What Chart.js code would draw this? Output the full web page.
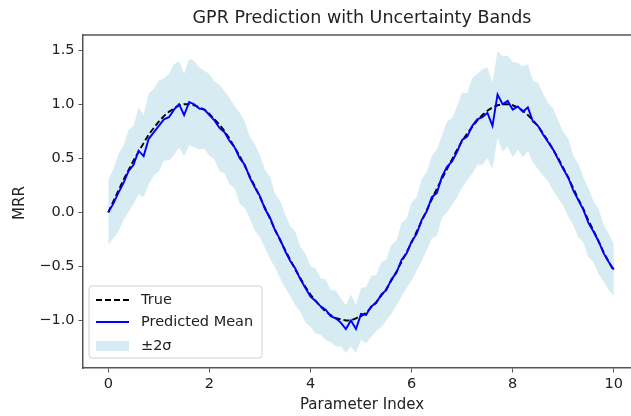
<!DOCTYPE html>
<html>
<head>
<meta charset="utf-8">
<script src="https://cdn.jsdelivr.net/npm/chart.js@4"></script>
<style>
  html, body { margin: 0; padding: 0; background: #fff; }
  canvas { display: block; }
</style>
</head>
<body>
<canvas id="chart" width="631" height="416"></canvas>
<script>
// parameter index (x values)
const paramIndex = [
  0.0, 0.1, 0.2, 0.3, 0.4, 0.5, 0.6, 0.7, 0.8, 0.9,
  1.0, 1.1, 1.2, 1.3, 1.4, 1.5, 1.6, 1.7, 1.8, 1.9,
  2.0, 2.1, 2.2, 2.3, 2.4, 2.5, 2.6, 2.7, 2.8, 2.9,
  3.0, 3.1, 3.2, 3.3, 3.4, 3.5, 3.6, 3.7, 3.8, 3.9,
  4.0, 4.1, 4.2, 4.3, 4.4, 4.5, 4.6, 4.7, 4.8, 4.9,
  5.0, 5.1, 5.2, 5.3, 5.4, 5.5, 5.6, 5.7, 5.8, 5.9,
  6.0, 6.1, 6.2, 6.3, 6.4, 6.5, 6.6, 6.7, 6.8, 6.9,
  7.0, 7.1, 7.2, 7.3, 7.4, 7.5, 7.6, 7.7, 7.8, 7.9,
  8.0, 8.1, 8.2, 8.3, 8.4, 8.5, 8.6, 8.7, 8.8, 8.9,
  9.0, 9.1, 9.2, 9.3, 9.4, 9.5, 9.6, 9.7, 9.8, 9.9,
  10.0
];

const trueMRR = [
  0.00, 0.10, 0.20, 0.30, 0.39, 0.48, 0.56, 0.64, 0.72, 0.78,
  0.84, 0.89, 0.93, 0.96, 0.99, 1.00, 1.00, 0.99, 0.97, 0.95,
  0.91, 0.86, 0.81, 0.75, 0.68, 0.60, 0.52, 0.43, 0.33, 0.24,
  0.14, 0.04, -0.06, -0.16, -0.26, -0.35, -0.44, -0.53, -0.61, -0.69,
  -0.76, -0.82, -0.87, -0.92, -0.95, -0.98, -0.99, -1.00, -1.00, -0.98,
  -0.96, -0.93, -0.88, -0.83, -0.77, -0.71, -0.63, -0.55, -0.46, -0.37,
  -0.28, -0.18, -0.08, 0.02, 0.12, 0.22, 0.31, 0.40, 0.49, 0.58,
  0.66, 0.73, 0.79, 0.85, 0.90, 0.94, 0.97, 0.99, 1.00, 1.00,
  0.99, 0.97, 0.94, 0.90, 0.85, 0.80, 0.73, 0.66, 0.58, 0.50,
  0.41, 0.32, 0.22, 0.12, 0.03, -0.08, -0.17, -0.27, -0.37, -0.46,
  -0.54
];

const predMean = [
  0.00, 0.08, 0.18, 0.27, 0.38, 0.44, 0.57, 0.52, 0.68, 0.74,
  0.80, 0.86, 0.88, 0.95, 1.00, 0.90, 1.02, 1.00, 0.96, 0.95,
  0.90, 0.85, 0.78, 0.74, 0.66, 0.60, 0.50, 0.44, 0.32, 0.23,
  0.15, 0.03, -0.05, -0.17, -0.25, -0.36, -0.45, -0.52, -0.62, -0.70,
  -0.78, -0.82, -0.87, -0.90, -0.96, -0.98, -1.02, -1.08, -1.00, -1.08,
  -0.94, -0.95, -0.87, -0.84, -0.76, -0.72, -0.62, -0.56, -0.44, -0.38,
  -0.27, -0.20, -0.07, 0.01, 0.14, 0.18, 0.33, 0.42, 0.47, 0.56,
  0.67, 0.70, 0.80, 0.86, 0.88, 0.92, 0.80, 1.09, 1.00, 1.03,
  0.95, 0.98, 0.93, 0.97, 0.84, 0.80, 0.72, 0.65, 0.58, 0.49,
  0.40, 0.32, 0.20, 0.11, 0.02, -0.10, -0.18, -0.27, -0.38, -0.46,
  -0.53
];

// +2 sigma / -2 sigma band edges
const bandUpper = [
  0.30, 0.40, 0.54, 0.61, 0.76, 0.80, 0.97, 0.90, 1.10, 1.14,
  1.22, 1.24, 1.28, 1.37, 1.40, 1.28, 1.42, 1.40, 1.34, 1.31,
  1.28, 1.21, 1.18, 1.12, 1.06, 0.98, 0.92, 0.84, 0.70, 0.63,
  0.53, 0.39, 0.33, 0.17, 0.11, -0.02, -0.13, -0.18, -0.32, -0.38,
  -0.50, -0.52, -0.61, -0.62, -0.72, -0.72, -0.80, -0.86, -0.76, -0.86,
  -0.70, -0.69, -0.59, -0.58, -0.46, -0.44, -0.30, -0.26, -0.10, -0.06,
  0.09, 0.14, 0.31, 0.37, 0.52, 0.58, 0.71, 0.84, 0.87, 0.98,
  1.11, 1.10, 1.24, 1.28, 1.32, 1.34, 1.20, 1.49, 1.44, 1.45,
  1.39, 1.38, 1.35, 1.37, 1.22, 1.20, 1.10, 1.01, 0.96, 0.85,
  0.74, 0.68, 0.52, 0.45, 0.32, 0.22, 0.10, 0.03, -0.12, -0.20,
  -0.29
];

const bandLower = [
  -0.30, -0.24, -0.18, -0.07, 0.00, 0.08, 0.17, 0.14, 0.26, 0.34,
  0.38, 0.48, 0.48, 0.53, 0.60, 0.52, 0.62, 0.60, 0.58, 0.59,
  0.52, 0.49, 0.38, 0.36, 0.26, 0.22, 0.08, 0.04, -0.06, -0.17,
  -0.23, -0.33, -0.43, -0.51, -0.61, -0.70, -0.77, -0.86, -0.92, -1.02,
  -1.06, -1.12, -1.13, -1.18, -1.20, -1.24, -1.24, -1.30, -1.24, -1.30,
  -1.18, -1.21, -1.15, -1.10, -1.06, -1.00, -0.94, -0.86, -0.78, -0.70,
  -0.63, -0.54, -0.45, -0.35, -0.24, -0.22, -0.05, 0.00, 0.07, 0.14,
  0.23, 0.30, 0.36, 0.44, 0.44, 0.50, 0.40, 0.69, 0.56, 0.61,
  0.51, 0.58, 0.51, 0.57, 0.46, 0.40, 0.34, 0.29, 0.20, 0.13,
  0.06, -0.04, -0.12, -0.23, -0.28, -0.42, -0.46, -0.57, -0.64, -0.72,
  -0.77
];

const xTicks = [0, 2, 4, 6, 8, 10];
const yTicks = [-1.0, -0.5, 0.0, 0.5, 1.0, 1.5];

const FONT = "'DejaVu Sans', sans-serif";
const AXIS_COLOR = '#555';
const TEXT_COLOR = '#222';
const BAND_COLOR = 'rgba(173, 216, 230, 0.5)';

const pts = ys => paramIndex.map((x, i) => ({ x, y: ys[i] }));

// title, axis labels, top spine and legend drawn on top of the chart
const decorations = {
  id: 'decorations',
  afterDraw(chart) {
    const ctx = chart.ctx;
    const area = chart.chartArea;
    const cx = 362;
    ctx.save();

    // top spine
    ctx.strokeStyle = AXIS_COLOR;
    ctx.lineWidth = 1.5;
    ctx.beginPath();
    ctx.moveTo(area.left, area.top);
    ctx.lineTo(area.right, area.top);
    ctx.stroke();

    ctx.fillStyle = TEXT_COLOR;
    ctx.textBaseline = 'middle';
    ctx.textAlign = 'center';
    ctx.font = '17.5px ' + FONT;
    ctx.fillText('GPR Prediction with Uncertainty Bands', cx, 18);

    ctx.font = '15px ' + FONT;
    ctx.fillText('Parameter Index', cx, 405);

    ctx.save();
    ctx.translate(20, 203);
    ctx.rotate(-Math.PI / 2);
    ctx.fillText('MRR', 0, 0);
    ctx.restore();

    // legend
    const bx = 89, by = 286, bw = 173, bh = 72, r = 3;
    ctx.beginPath();
    ctx.moveTo(bx + r, by);
    ctx.arcTo(bx + bw, by, bx + bw, by + bh, r);
    ctx.arcTo(bx + bw, by + bh, bx, by + bh, r);
    ctx.arcTo(bx, by + bh, bx, by, r);
    ctx.arcTo(bx, by, bx + bw, by, r);
    ctx.closePath();
    ctx.fillStyle = 'rgba(255,255,255,0.8)';
    ctx.fill();
    ctx.strokeStyle = '#d0d0d0';
    ctx.lineWidth = 1;
    ctx.stroke();

    const hx0 = 96, hx1 = 129, tx = 141;
    const rows = [300, 322, 346];
    const ds = chart.data.datasets;

    ctx.lineWidth = 1.9;
    ctx.strokeStyle = ds[1].borderColor;
    ctx.setLineDash(ds[1].borderDash);
    ctx.beginPath();
    ctx.moveTo(hx0, rows[0]);
    ctx.lineTo(hx1, rows[0]);
    ctx.stroke();
    ctx.setLineDash([]);

    ctx.strokeStyle = ds[0].borderColor;
    ctx.beginPath();
    ctx.moveTo(hx0, rows[1]);
    ctx.lineTo(hx1, rows[1]);
    ctx.stroke();

    ctx.fillStyle = BAND_COLOR;
    ctx.fillRect(hx0, rows[2] - 5, hx1 - hx0, 10);

    ctx.fillStyle = TEXT_COLOR;
    ctx.textAlign = 'left';
    ctx.font = '14.5px ' + FONT;
    ctx.fillText(ds[1].label, tx, rows[0]);
    ctx.fillText(ds[0].label, tx, rows[1]);
    ctx.fillText(ds[2].label, tx, rows[2]);

    ctx.restore();
  }
};

new Chart(document.getElementById('chart'), {
  type: 'line',
  data: {
    datasets: [
      {
        label: 'Predicted Mean',
        data: pts(predMean),
        borderColor: '#0000ff',
        borderWidth: 1.9,
        pointRadius: 0,
        tension: 0,
        fill: false
      },
      {
        label: 'True',
        data: pts(trueMRR),
        borderColor: '#000000',
        borderWidth: 1.9,
        borderDash: [6, 3],
        pointRadius: 0,
        tension: 0,
        fill: false
      },
      {
        label: '±2σ',
        data: pts(bandUpper),
        borderWidth: 0,
        borderColor: 'rgba(0,0,0,0)',
        backgroundColor: BAND_COLOR,
        pointRadius: 0,
        tension: 0,
        fill: '+1'
      },
      {
        label: 'lower',
        data: pts(bandLower),
        borderWidth: 0,
        borderColor: 'rgba(0,0,0,0)',
        pointRadius: 0,
        tension: 0,
        fill: false
      }
    ]
  },
  options: {
    responsive: false,
    animation: false,
    devicePixelRatio: 1,
    layout: { padding: { top: 35, left: 0, right: 0, bottom: 0 } },
    plugins: {
      legend: { display: false },
      title: { display: false },
      tooltip: { enabled: false }
    },
    scales: {
      x: {
        type: 'linear',
        min: -0.5,
        max: 10.34,
        afterBuildTicks: s => { s.ticks = xTicks.map(v => ({ value: v })); },
        afterFit: s => { s.height = 48; },
        grid: { display: true, drawOnChartArea: false, drawTicks: true, tickLength: 4.5, color: AXIS_COLOR, lineWidth: 1 },
        border: { display: true, color: AXIS_COLOR, width: 1.5 },
        ticks: {
          padding: 3,
          maxRotation: 0,
          color: TEXT_COLOR,
          font: { family: FONT, size: 14.5 },
          callback: v => String(v)
        }
      },
      y: {
        type: 'linear',
        min: -1.44,
        max: 1.64,
        afterBuildTicks: s => { s.ticks = yTicks.map(v => ({ value: v })); },
        afterFit: s => { s.width = 83; },
        grid: { display: true, drawOnChartArea: false, drawTicks: true, tickLength: 4.5, color: AXIS_COLOR, lineWidth: 1 },
        border: { display: true, color: AXIS_COLOR, width: 1.5 },
        ticks: {
          padding: 4,
          color: TEXT_COLOR,
          font: { family: FONT, size: 14.5 },
          callback: v => (v < 0 ? '\u2212' : '') + Math.abs(v).toFixed(1)
        }
      }
    }
  },
  plugins: [decorations]
});
</script>
</body>
</html>
